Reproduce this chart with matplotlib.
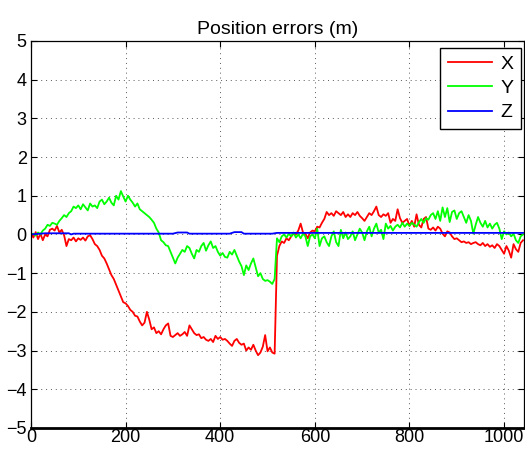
import numpy as np
import matplotlib
matplotlib.use("Agg")
import matplotlib.pyplot as plt

# sample index, every 5 steps
t = np.arange(0, 1041, 5)

# X error
err_x = [0.05, -0.08, 0.06, -0.12, 0.02, -0.15, 0.0, -0.05, 0.12, 0.15,
         0.1, 0.22, 0.05, 0.12, -0.02, -0.3, -0.12, -0.15, -0.08, -0.18,
         -0.1, -0.14, -0.08, -0.16, -0.05, -0.02, -0.12, -0.25, -0.3, -0.4,
         -0.55, -0.62, -0.75, -0.9, -1.05, -1.15, -1.3, -1.45, -1.6, -1.75,
         -1.78, -1.85, -1.95, -2.0, -2.1, -2.12, -2.25, -2.35, -2.28, -2.0,
         -2.2, -2.45, -2.4, -2.55, -2.5, -2.58, -2.45, -2.35, -2.3, -2.62,
         -2.65, -2.6, -2.55, -2.62, -2.58, -2.52, -2.62, -2.35, -2.45, -2.55,
         -2.6, -2.58, -2.68, -2.65, -2.72, -2.75, -2.7, -2.78, -2.62, -2.7,
         -2.65, -2.72, -2.7, -2.75, -2.82, -2.88, -2.75, -2.7, -2.8, -2.85,
         -2.82, -3.0, -2.92, -2.98, -2.85, -3.0, -3.12, -3.05, -2.9, -2.6,
         -3.02, -2.92, -3.05, -3.08, -0.55, -0.3, -0.18, -0.22, -0.1, -0.15,
         -0.05, 0.02, 0.0, 0.1, 0.28, 0.05, 0.02, -0.1, 0.05, 0.1,
         0.08, 0.2, 0.18, 0.3, 0.4, 0.58, 0.5, 0.55, 0.48, 0.6,
         0.55, 0.5, 0.58, 0.45, 0.52, 0.45, 0.55, 0.5, 0.58, 0.48,
         0.42, 0.35, 0.45, 0.55, 0.5, 0.6, 0.72, 0.5, 0.45, 0.52,
         0.48, 0.55, 0.3, 0.4, 0.35, 0.65, 0.42, 0.3, 0.35, 0.4,
         0.22, 0.35, 0.2, 0.52, 0.25, 0.18, 0.4, 0.45, 0.15, 0.12,
         0.18, 0.1, 0.2, 0.15, 0.02, -0.05, 0.08, 0.05, -0.05, -0.12,
         -0.1, -0.15, -0.2, -0.18, -0.22, -0.2, -0.25, -0.22, -0.2, -0.25,
         -0.28, -0.22, -0.3, -0.25, -0.32, -0.28, -0.35, -0.25, -0.3, -0.4,
         -0.5, -0.3, -0.42, -0.6, -0.25, -0.38, -0.45, -0.22, -0.15]

# Y error
err_y = [0.0, 0.02, -0.03, 0.05, 0.0, 0.1, 0.15, 0.25, 0.22, 0.3,
         0.28, 0.25, 0.35, 0.42, 0.5, 0.45, 0.55, 0.6, 0.72, 0.68,
         0.75, 0.65, 0.78, 0.7, 0.62, 0.8, 0.72, 0.75, 0.68, 0.85,
         0.9, 0.78, 0.85, 0.95, 0.82, 0.75, 1.0, 0.9, 1.12, 0.98,
         0.85, 1.0, 0.9, 0.82, 0.72, 0.8, 0.65, 0.6, 0.55, 0.5,
         0.45, 0.38, 0.3, 0.15, 0.05, -0.15, -0.2, -0.28, -0.3, -0.45,
         -0.6, -0.75, -0.6, -0.5, -0.4, -0.45, -0.3, -0.35, -0.5, -0.62,
         -0.4, -0.45, -0.3, -0.22, -0.42, -0.28, -0.18, -0.35, -0.3, -0.45,
         -0.55, -0.48, -0.58, -0.6, -0.45, -0.52, -0.4, -0.55, -0.7, -0.82,
         -1.05, -0.8, -0.92, -0.75, -0.62, -0.85, -1.08, -1.0, -1.15, -1.2,
         -1.18, -1.22, -1.28, -1.15, -0.1, -0.2, -0.05, 0.0, -0.08, 0.02,
         -0.05, 0.05, -0.08, 0.0, -0.1, 0.02, -0.05, -0.3, -0.05, 0.0,
         -0.1, 0.15, -0.3, -0.1, -0.05, -0.2, -0.3, -0.05, 0.08, -0.2,
         -0.3, 0.12, -0.1, 0.05, -0.12, -0.05, 0.08, -0.15, 0.0, 0.15,
         0.05, -0.15, 0.08, 0.2, -0.05, 0.15, 0.28, 0.05, 0.12, -0.12,
         0.28, 0.15, 0.22, 0.1, 0.2, 0.25, 0.18, 0.3, 0.2, 0.28,
         0.22, 0.3, 0.25, 0.2, 0.32, 0.4, 0.3, 0.42, 0.38, 0.5,
         0.55, 0.4, 0.6, 0.35, 0.7, 0.45, 0.68, 0.32, 0.58, 0.62,
         0.4, 0.55, 0.6, 0.45, 0.3, 0.5, 0.35, 0.02, 0.25, 0.45,
         0.3, 0.2, 0.35, 0.18, 0.28, 0.15, 0.25, 0.3, 0.15, -0.12,
         0.08, 0.0, 0.05, -0.05, 0.02, -0.15, -0.22, -0.05, 0.0]

# Z error, nearly flat
t_z = [0, 30, 80, 85, 90, 300, 310, 330, 335, 420, 430, 445, 450, 510, 520, 1040]
err_z = [0.0, 0.03, 0.03, 0.0, 0.02, 0.02, 0.05, 0.05, 0.02, 0.02, 0.06, 0.06,
         0.02, 0.02, 0.04, 0.04]

plt.rcParams['font.family'] = ['Liberation Sans', 'DejaVu Sans']

fig = plt.figure(figsize=(5.25, 4.57), dpi=100)
ax = fig.add_axes([0.059, 0.0635, 0.939, 0.847])

ax.plot(t, err_x, color=(1, 0, 0), lw=1.3, label='X')
ax.plot(t, err_y, color=(0, 1, 0), lw=1.3, label='Y')
ax.plot(t_z, err_z, color=(0, 0, 1), lw=1.3, label='Z')

ax.set_xlim(0, 1042)
ax.set_ylim(-5, 5)
ax.set_xticks([0, 200, 400, 600, 800, 1000])
ax.set_yticks(range(-5, 6))
ax.grid(True, color='0.35', linestyle=(0, (1, 4)), lw=0.7)
ax.tick_params(direction='in', top=True, right=True, labelsize=13, length=4)
ax.tick_params(axis='x', pad=1)
ax.tick_params(axis='y', pad=3)
for s in ax.spines.values():
    s.set_linewidth(0.9)
ax.spines['bottom'].set_linewidth(2)

ax.set_title('Position errors (m)', fontsize=14, pad=5)

leg = ax.legend(loc='upper right', bbox_to_anchor=(0.994, 0.982), borderaxespad=0,
                fontsize=14, handlelength=2.3, fancybox=False,
                edgecolor='black', framealpha=1, labelspacing=0.33,
                handletextpad=0.4, borderpad=0.4)
leg.get_frame().set_linewidth(1.0)

fig.savefig('out.png', dpi=100)
